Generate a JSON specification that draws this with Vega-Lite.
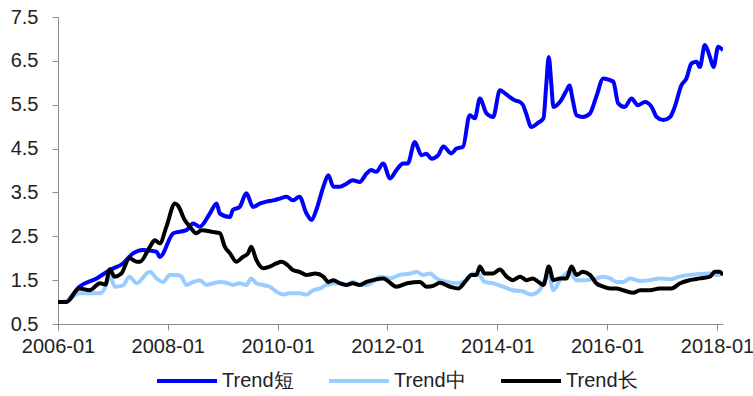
{
  "$schema": "https://vega.github.io/schema/vega-lite/v6.json",
  "width": 665,
  "height": 307,
  "autosize": {"type": "none"},
  "padding": {"left": 58, "top": 17, "right": 30, "bottom": 72},
  "background": "white",
  "config": {"view": {"stroke": null}, "font": "Liberation Sans"},
  "data": {"values": [
    {"t":"2006-01-01","k":"Trend短","v":1.0},
    {"t":"2006-02-15","k":"Trend短","v":1.0},
    {"t":"2006-05-23","k":"Trend短","v":1.35},
    {"t":"2006-09-15","k":"Trend短","v":1.54},
    {"t":"2006-12-12","k":"Trend短","v":1.73},
    {"t":"2007-03-09","k":"Trend短","v":1.88},
    {"t":"2007-05-15","k":"Trend短","v":2.11},
    {"t":"2007-07-18","k":"Trend短","v":2.19},
    {"t":"2007-10-18","k":"Trend短","v":2.15},
    {"t":"2007-11-09","k":"Trend短","v":2.03},
    {"t":"2008-02-07","k":"Trend短","v":2.57},
    {"t":"2008-05-04","k":"Trend短","v":2.64},
    {"t":"2008-06-18","k":"Trend短","v":2.79},
    {"t":"2008-08-01","k":"Trend短","v":2.72},
    {"t":"2008-10-07","k":"Trend短","v":3.02},
    {"t":"2008-11-21","k":"Trend短","v":3.25},
    {"t":"2008-12-12","k":"Trend短","v":3.02},
    {"t":"2009-02-18","k":"Trend短","v":2.94},
    {"t":"2009-03-09","k":"Trend短","v":3.1},
    {"t":"2009-04-23","k":"Trend短","v":3.17},
    {"t":"2009-06-07","k":"Trend短","v":3.48},
    {"t":"2009-07-21","k":"Trend短","v":3.17},
    {"t":"2009-09-07","k":"Trend短","v":3.25},
    {"t":"2009-10-18","k":"Trend短","v":3.29},
    {"t":"2009-12-04","k":"Trend短","v":3.32},
    {"t":"2010-01-15","k":"Trend短","v":3.36},
    {"t":"2010-03-01","k":"Trend短","v":3.4},
    {"t":"2010-04-12","k":"Trend短","v":3.32},
    {"t":"2010-05-26","k":"Trend短","v":3.4},
    {"t":"2010-07-12","k":"Trend短","v":3.02},
    {"t":"2010-08-15","k":"Trend短","v":2.87},
    {"t":"2010-09-15","k":"Trend短","v":3.1},
    {"t":"2010-11-01","k":"Trend短","v":3.63},
    {"t":"2010-12-04","k":"Trend短","v":3.89},
    {"t":"2011-01-07","k":"Trend短","v":3.63},
    {"t":"2011-02-18","k":"Trend短","v":3.63},
    {"t":"2011-04-04","k":"Trend短","v":3.7},
    {"t":"2011-05-15","k":"Trend短","v":3.78},
    {"t":"2011-07-01","k":"Trend短","v":3.74},
    {"t":"2011-08-15","k":"Trend短","v":3.93},
    {"t":"2011-09-15","k":"Trend短","v":4.01},
    {"t":"2011-10-18","k":"Trend短","v":3.97},
    {"t":"2011-12-04","k":"Trend短","v":4.16},
    {"t":"2012-01-18","k":"Trend短","v":3.82},
    {"t":"2012-03-01","k":"Trend短","v":4.01},
    {"t":"2012-04-15","k":"Trend短","v":4.16},
    {"t":"2012-05-15","k":"Trend短","v":4.16},
    {"t":"2012-07-01","k":"Trend短","v":4.65},
    {"t":"2012-08-15","k":"Trend短","v":4.35},
    {"t":"2012-09-15","k":"Trend短","v":4.38},
    {"t":"2012-10-21","k":"Trend短","v":4.27},
    {"t":"2012-12-04","k":"Trend短","v":4.35},
    {"t":"2013-01-07","k":"Trend短","v":4.55},
    {"t":"2013-03-01","k":"Trend短","v":4.39},
    {"t":"2013-04-04","k":"Trend短","v":4.5},
    {"t":"2013-05-18","k":"Trend短","v":4.54},
    {"t":"2013-07-01","k":"Trend短","v":5.26},
    {"t":"2013-08-04","k":"Trend短","v":5.19},
    {"t":"2013-09-07","k":"Trend短","v":5.64},
    {"t":"2013-10-21","k":"Trend短","v":5.3},
    {"t":"2013-12-04","k":"Trend短","v":5.22},
    {"t":"2014-01-18","k":"Trend短","v":5.83},
    {"t":"2014-02-21","k":"Trend短","v":5.76},
    {"t":"2014-03-23","k":"Trend短","v":5.68},
    {"t":"2014-04-26","k":"Trend短","v":5.6},
    {"t":"2014-06-01","k":"Trend短","v":5.56},
    {"t":"2014-06-21","k":"Trend短","v":5.49},
    {"t":"2014-07-12","k":"Trend短","v":5.3},
    {"t":"2014-08-15","k":"Trend短","v":4.99},
    {"t":"2014-10-01","k":"Trend短","v":5.09},
    {"t":"2014-11-04","k":"Trend短","v":5.19},
    {"t":"2014-11-23","k":"Trend短","v":5.98},
    {"t":"2014-12-09","k":"Trend短","v":6.59},
    {"t":"2014-12-26","k":"Trend短","v":5.98},
    {"t":"2015-01-09","k":"Trend短","v":5.45},
    {"t":"2015-02-21","k":"Trend短","v":5.56},
    {"t":"2015-04-07","k":"Trend短","v":5.83},
    {"t":"2015-04-26","k":"Trend短","v":5.94},
    {"t":"2015-05-18","k":"Trend短","v":5.6},
    {"t":"2015-06-12","k":"Trend短","v":5.26},
    {"t":"2015-07-23","k":"Trend短","v":5.22},
    {"t":"2015-09-09","k":"Trend短","v":5.3},
    {"t":"2015-10-21","k":"Trend短","v":5.68},
    {"t":"2015-12-07","k":"Trend短","v":6.1},
    {"t":"2016-01-21","k":"Trend短","v":6.06},
    {"t":"2016-02-12","k":"Trend短","v":6.02},
    {"t":"2016-03-15","k":"Trend短","v":5.53},
    {"t":"2016-04-26","k":"Trend短","v":5.45},
    {"t":"2016-06-12","k":"Trend短","v":5.64},
    {"t":"2016-07-23","k":"Trend短","v":5.49},
    {"t":"2016-09-09","k":"Trend短","v":5.56},
    {"t":"2016-10-23","k":"Trend短","v":5.45},
    {"t":"2016-11-26","k":"Trend短","v":5.22},
    {"t":"2017-01-09","k":"Trend短","v":5.15},
    {"t":"2017-02-23","k":"Trend短","v":5.22},
    {"t":"2017-03-26","k":"Trend短","v":5.45},
    {"t":"2017-05-09","k":"Trend短","v":5.94},
    {"t":"2017-06-12","k":"Trend短","v":6.1},
    {"t":"2017-07-15","k":"Trend短","v":6.44},
    {"t":"2017-08-18","k":"Trend短","v":6.48},
    {"t":"2017-09-09","k":"Trend短","v":6.36},
    {"t":"2017-10-12","k":"Trend短","v":6.86},
    {"t":"2017-11-15","k":"Trend短","v":6.59},
    {"t":"2017-12-09","k":"Trend短","v":6.36},
    {"t":"2018-01-09","k":"Trend短","v":6.82},
    {"t":"2018-02-10","k":"Trend短","v":6.74},

    {"t":"2006-01-01","k":"Trend中","v":1.0},
    {"t":"2006-02-26","k":"Trend中","v":1.02},
    {"t":"2006-05-23","k":"Trend中","v":1.2},
    {"t":"2006-08-01","k":"Trend中","v":1.2},
    {"t":"2006-10-07","k":"Trend中","v":1.2},
    {"t":"2006-11-01","k":"Trend中","v":1.27},
    {"t":"2006-12-12","k":"Trend中","v":1.58},
    {"t":"2007-01-15","k":"Trend中","v":1.35},
    {"t":"2007-03-09","k":"Trend中","v":1.38},
    {"t":"2007-04-21","k":"Trend中","v":1.58},
    {"t":"2007-06-07","k":"Trend中","v":1.43},
    {"t":"2007-09-04","k":"Trend中","v":1.69},
    {"t":"2007-10-18","k":"Trend中","v":1.54},
    {"t":"2007-12-01","k":"Trend中","v":1.46},
    {"t":"2008-01-15","k":"Trend中","v":1.62},
    {"t":"2008-03-01","k":"Trend中","v":1.62},
    {"t":"2008-04-01","k":"Trend中","v":1.58},
    {"t":"2008-05-04","k":"Trend中","v":1.39},
    {"t":"2008-06-18","k":"Trend中","v":1.46},
    {"t":"2008-08-01","k":"Trend中","v":1.5},
    {"t":"2008-09-15","k":"Trend中","v":1.39},
    {"t":"2008-11-01","k":"Trend中","v":1.43},
    {"t":"2008-12-12","k":"Trend中","v":1.46},
    {"t":"2009-01-26","k":"Trend中","v":1.44},
    {"t":"2009-03-09","k":"Trend中","v":1.39},
    {"t":"2009-04-23","k":"Trend中","v":1.43},
    {"t":"2009-06-07","k":"Trend中","v":1.39},
    {"t":"2009-07-09","k":"Trend中","v":1.54},
    {"t":"2009-08-12","k":"Trend中","v":1.43},
    {"t":"2009-09-26","k":"Trend中","v":1.39},
    {"t":"2009-11-09","k":"Trend中","v":1.35},
    {"t":"2009-12-23","k":"Trend中","v":1.24},
    {"t":"2010-02-09","k":"Trend中","v":1.17},
    {"t":"2010-03-21","k":"Trend中","v":1.2},
    {"t":"2010-05-26","k":"Trend中","v":1.2},
    {"t":"2010-07-12","k":"Trend中","v":1.17},
    {"t":"2010-08-26","k":"Trend中","v":1.27},
    {"t":"2010-10-09","k":"Trend中","v":1.31},
    {"t":"2010-11-23","k":"Trend中","v":1.39},
    {"t":"2011-01-07","k":"Trend中","v":1.43},
    {"t":"2011-02-18","k":"Trend中","v":1.43},
    {"t":"2011-04-04","k":"Trend中","v":1.39},
    {"t":"2011-05-15","k":"Trend中","v":1.46},
    {"t":"2011-07-01","k":"Trend中","v":1.39},
    {"t":"2011-08-15","k":"Trend中","v":1.39},
    {"t":"2011-09-26","k":"Trend中","v":1.46},
    {"t":"2011-11-12","k":"Trend中","v":1.58},
    {"t":"2012-01-18","k":"Trend中","v":1.54},
    {"t":"2012-03-23","k":"Trend中","v":1.62},
    {"t":"2012-06-01","k":"Trend中","v":1.65},
    {"t":"2012-07-12","k":"Trend中","v":1.69},
    {"t":"2012-08-26","k":"Trend中","v":1.62},
    {"t":"2012-10-09","k":"Trend中","v":1.65},
    {"t":"2012-11-23","k":"Trend中","v":1.54},
    {"t":"2013-02-01","k":"Trend中","v":1.46},
    {"t":"2013-04-07","k":"Trend中","v":1.43},
    {"t":"2013-06-09","k":"Trend中","v":1.5},
    {"t":"2013-07-23","k":"Trend中","v":1.65},
    {"t":"2013-09-01","k":"Trend中","v":1.62},
    {"t":"2013-10-09","k":"Trend中","v":1.46},
    {"t":"2013-12-04","k":"Trend中","v":1.43},
    {"t":"2014-02-09","k":"Trend中","v":1.35},
    {"t":"2014-04-15","k":"Trend中","v":1.27},
    {"t":"2014-06-21","k":"Trend中","v":1.24},
    {"t":"2014-08-15","k":"Trend中","v":1.17},
    {"t":"2014-10-09","k":"Trend中","v":1.27},
    {"t":"2014-11-12","k":"Trend中","v":1.5},
    {"t":"2014-12-09","k":"Trend中","v":1.62},
    {"t":"2015-01-09","k":"Trend中","v":1.27},
    {"t":"2015-02-21","k":"Trend中","v":1.5},
    {"t":"2015-04-26","k":"Trend中","v":1.69},
    {"t":"2015-06-12","k":"Trend中","v":1.5},
    {"t":"2015-08-15","k":"Trend中","v":1.5},
    {"t":"2015-10-21","k":"Trend中","v":1.54},
    {"t":"2015-12-07","k":"Trend中","v":1.58},
    {"t":"2016-01-21","k":"Trend中","v":1.54},
    {"t":"2016-03-04","k":"Trend中","v":1.46},
    {"t":"2016-04-18","k":"Trend中","v":1.46},
    {"t":"2016-06-01","k":"Trend中","v":1.54},
    {"t":"2016-08-07","k":"Trend中","v":1.48},
    {"t":"2016-10-12","k":"Trend中","v":1.5},
    {"t":"2016-12-15","k":"Trend中","v":1.54},
    {"t":"2017-02-21","k":"Trend中","v":1.52},
    {"t":"2017-04-26","k":"Trend中","v":1.58},
    {"t":"2017-07-04","k":"Trend中","v":1.62},
    {"t":"2017-09-09","k":"Trend中","v":1.64},
    {"t":"2017-11-15","k":"Trend中","v":1.65},
    {"t":"2018-01-01","k":"Trend中","v":1.62},
    {"t":"2018-02-10","k":"Trend中","v":1.65},

    {"t":"2006-01-01","k":"Trend长","v":1.0},
    {"t":"2006-02-26","k":"Trend长","v":1.0},
    {"t":"2006-05-23","k":"Trend长","v":1.31},
    {"t":"2006-08-01","k":"Trend长","v":1.27},
    {"t":"2006-10-07","k":"Trend长","v":1.43},
    {"t":"2006-11-12","k":"Trend长","v":1.4},
    {"t":"2006-12-12","k":"Trend长","v":1.75},
    {"t":"2007-01-12","k":"Trend长","v":1.58},
    {"t":"2007-02-26","k":"Trend长","v":1.65},
    {"t":"2007-04-21","k":"Trend长","v":2.0},
    {"t":"2007-06-07","k":"Trend长","v":1.92},
    {"t":"2007-07-01","k":"Trend长","v":1.92},
    {"t":"2007-09-04","k":"Trend长","v":2.26},
    {"t":"2007-10-07","k":"Trend长","v":2.41},
    {"t":"2007-11-09","k":"Trend长","v":2.34},
    {"t":"2007-12-23","k":"Trend长","v":2.72},
    {"t":"2008-02-18","k":"Trend长","v":3.25},
    {"t":"2008-03-09","k":"Trend长","v":3.2},
    {"t":"2008-04-23","k":"Trend长","v":2.87},
    {"t":"2008-05-26","k":"Trend长","v":2.72},
    {"t":"2008-07-09","k":"Trend长","v":2.57},
    {"t":"2008-08-12","k":"Trend长","v":2.64},
    {"t":"2008-10-26","k":"Trend长","v":2.6},
    {"t":"2008-12-12","k":"Trend长","v":2.57},
    {"t":"2009-01-15","k":"Trend长","v":2.26},
    {"t":"2009-02-18","k":"Trend长","v":2.11},
    {"t":"2009-04-01","k":"Trend长","v":1.92},
    {"t":"2009-05-15","k":"Trend长","v":2.03},
    {"t":"2009-06-18","k":"Trend长","v":2.11},
    {"t":"2009-07-09","k":"Trend长","v":2.26},
    {"t":"2009-08-12","k":"Trend长","v":1.96},
    {"t":"2009-09-26","k":"Trend长","v":1.77},
    {"t":"2009-11-09","k":"Trend长","v":1.81},
    {"t":"2009-12-23","k":"Trend长","v":1.88},
    {"t":"2010-01-26","k":"Trend长","v":1.92},
    {"t":"2010-03-09","k":"Trend长","v":1.84},
    {"t":"2010-04-12","k":"Trend长","v":1.73},
    {"t":"2010-05-26","k":"Trend长","v":1.69},
    {"t":"2010-07-12","k":"Trend长","v":1.62},
    {"t":"2010-09-09","k":"Trend长","v":1.65},
    {"t":"2010-11-01","k":"Trend长","v":1.58},
    {"t":"2010-12-04","k":"Trend长","v":1.46},
    {"t":"2011-01-07","k":"Trend长","v":1.5},
    {"t":"2011-02-18","k":"Trend长","v":1.43},
    {"t":"2011-04-04","k":"Trend长","v":1.39},
    {"t":"2011-05-15","k":"Trend长","v":1.43},
    {"t":"2011-07-01","k":"Trend长","v":1.39},
    {"t":"2011-08-15","k":"Trend长","v":1.46},
    {"t":"2011-09-26","k":"Trend长","v":1.5},
    {"t":"2011-12-04","k":"Trend长","v":1.54},
    {"t":"2012-03-01","k":"Trend长","v":1.35},
    {"t":"2012-05-12","k":"Trend长","v":1.43},
    {"t":"2012-08-04","k":"Trend长","v":1.46},
    {"t":"2012-09-18","k":"Trend长","v":1.35},
    {"t":"2012-11-01","k":"Trend长","v":1.37},
    {"t":"2012-12-15","k":"Trend长","v":1.44},
    {"t":"2013-02-21","k":"Trend长","v":1.35},
    {"t":"2013-04-15","k":"Trend长","v":1.31},
    {"t":"2013-06-09","k":"Trend长","v":1.5},
    {"t":"2013-07-12","k":"Trend长","v":1.62},
    {"t":"2013-08-15","k":"Trend长","v":1.62},
    {"t":"2013-09-07","k":"Trend长","v":1.81},
    {"t":"2013-10-09","k":"Trend长","v":1.65},
    {"t":"2013-12-04","k":"Trend长","v":1.65},
    {"t":"2014-01-18","k":"Trend长","v":1.74},
    {"t":"2014-03-04","k":"Trend长","v":1.58},
    {"t":"2014-04-15","k":"Trend长","v":1.5},
    {"t":"2014-06-01","k":"Trend长","v":1.58},
    {"t":"2014-07-15","k":"Trend长","v":1.5},
    {"t":"2014-08-26","k":"Trend长","v":1.54},
    {"t":"2014-10-01","k":"Trend长","v":1.46},
    {"t":"2014-11-04","k":"Trend长","v":1.39},
    {"t":"2014-12-09","k":"Trend长","v":1.81},
    {"t":"2015-01-09","k":"Trend长","v":1.5},
    {"t":"2015-02-21","k":"Trend长","v":1.54},
    {"t":"2015-04-07","k":"Trend长","v":1.54},
    {"t":"2015-05-09","k":"Trend长","v":1.81},
    {"t":"2015-06-12","k":"Trend长","v":1.62},
    {"t":"2015-07-23","k":"Trend长","v":1.69},
    {"t":"2015-09-09","k":"Trend长","v":1.62},
    {"t":"2015-10-21","k":"Trend长","v":1.43},
    {"t":"2015-12-07","k":"Trend长","v":1.35},
    {"t":"2016-01-21","k":"Trend长","v":1.31},
    {"t":"2016-03-04","k":"Trend长","v":1.31},
    {"t":"2016-04-18","k":"Trend长","v":1.27},
    {"t":"2016-06-23","k":"Trend长","v":1.21},
    {"t":"2016-08-07","k":"Trend长","v":1.27},
    {"t":"2016-10-12","k":"Trend长","v":1.27},
    {"t":"2016-12-15","k":"Trend长","v":1.31},
    {"t":"2017-03-04","k":"Trend长","v":1.31},
    {"t":"2017-05-01","k":"Trend长","v":1.43},
    {"t":"2017-07-04","k":"Trend长","v":1.5},
    {"t":"2017-09-09","k":"Trend长","v":1.54},
    {"t":"2017-11-15","k":"Trend长","v":1.58},
    {"t":"2017-12-18","k":"Trend长","v":1.69},
    {"t":"2018-01-18","k":"Trend长","v":1.69},
    {"t":"2018-02-10","k":"Trend长","v":1.62}
  ]},
  "mark": {"type": "line", "strokeWidth": 4, "interpolate": "monotone", "clip": true},
  "encoding": {
    "x": {
      "field": "t", "type": "temporal",
      "scale": {"domain": [{"year": 2006, "month": 1, "date": 1}, {"year": 2018, "month": 2, "date": 10}]},
      "axis": {
        "title": null, "format": "%Y-%m", "grid": false,
        "values": [
          {"year": 2006, "month": 1, "date": 1}, {"year": 2008, "month": 1, "date": 1},
          {"year": 2010, "month": 1, "date": 1}, {"year": 2012, "month": 1, "date": 1},
          {"year": 2014, "month": 1, "date": 1}, {"year": 2016, "month": 1, "date": 1},
          {"year": 2018, "month": 1, "date": 1}
        ],
        "labelFontSize": 20, "labelColor": "#222222", "labelFont": "Liberation Sans",
        "domainColor": "#8c8c8c", "tickColor": "#8c8c8c", "tickSize": 6,
        "labelPadding": 6, "labelOverlap": false, "labelFlush": false
      }
    },
    "y": {
      "field": "v", "type": "quantitative",
      "scale": {"domain": [0.5, 7.5], "nice": false, "zero": false},
      "axis": {
        "title": null, "grid": false, "values": [0.5, 1.5, 2.5, 3.5, 4.5, 5.5, 6.5, 7.5], "format": ".1f",
        "labelFontSize": 20, "labelColor": "#222222", "labelFont": "Liberation Sans",
        "domainColor": "#8c8c8c", "tickColor": "#8c8c8c", "tickSize": 6,
        "labelPadding": 14
      }
    },
    "color": {
      "field": "k", "type": "nominal",
      "scale": {"domain": ["Trend短", "Trend中", "Trend长"], "range": ["#0000ff", "#99ccff", "#000000"]},
      "legend": {
        "title": null, "orient": "none", "direction": "horizontal",
        "legendX": 97, "legendY": 332,
        "symbolType": "stroke", "symbolSize": 3600, "symbolStrokeWidth": 4,
        "labelFontSize": 20, "labelColor": "#222222", "labelFont": "Liberation Sans",
        "labelOffset": 3, "columnPadding": 27, "padding": 0
      }
    },
    "order": {"field": "t", "type": "temporal"}
  }
}
